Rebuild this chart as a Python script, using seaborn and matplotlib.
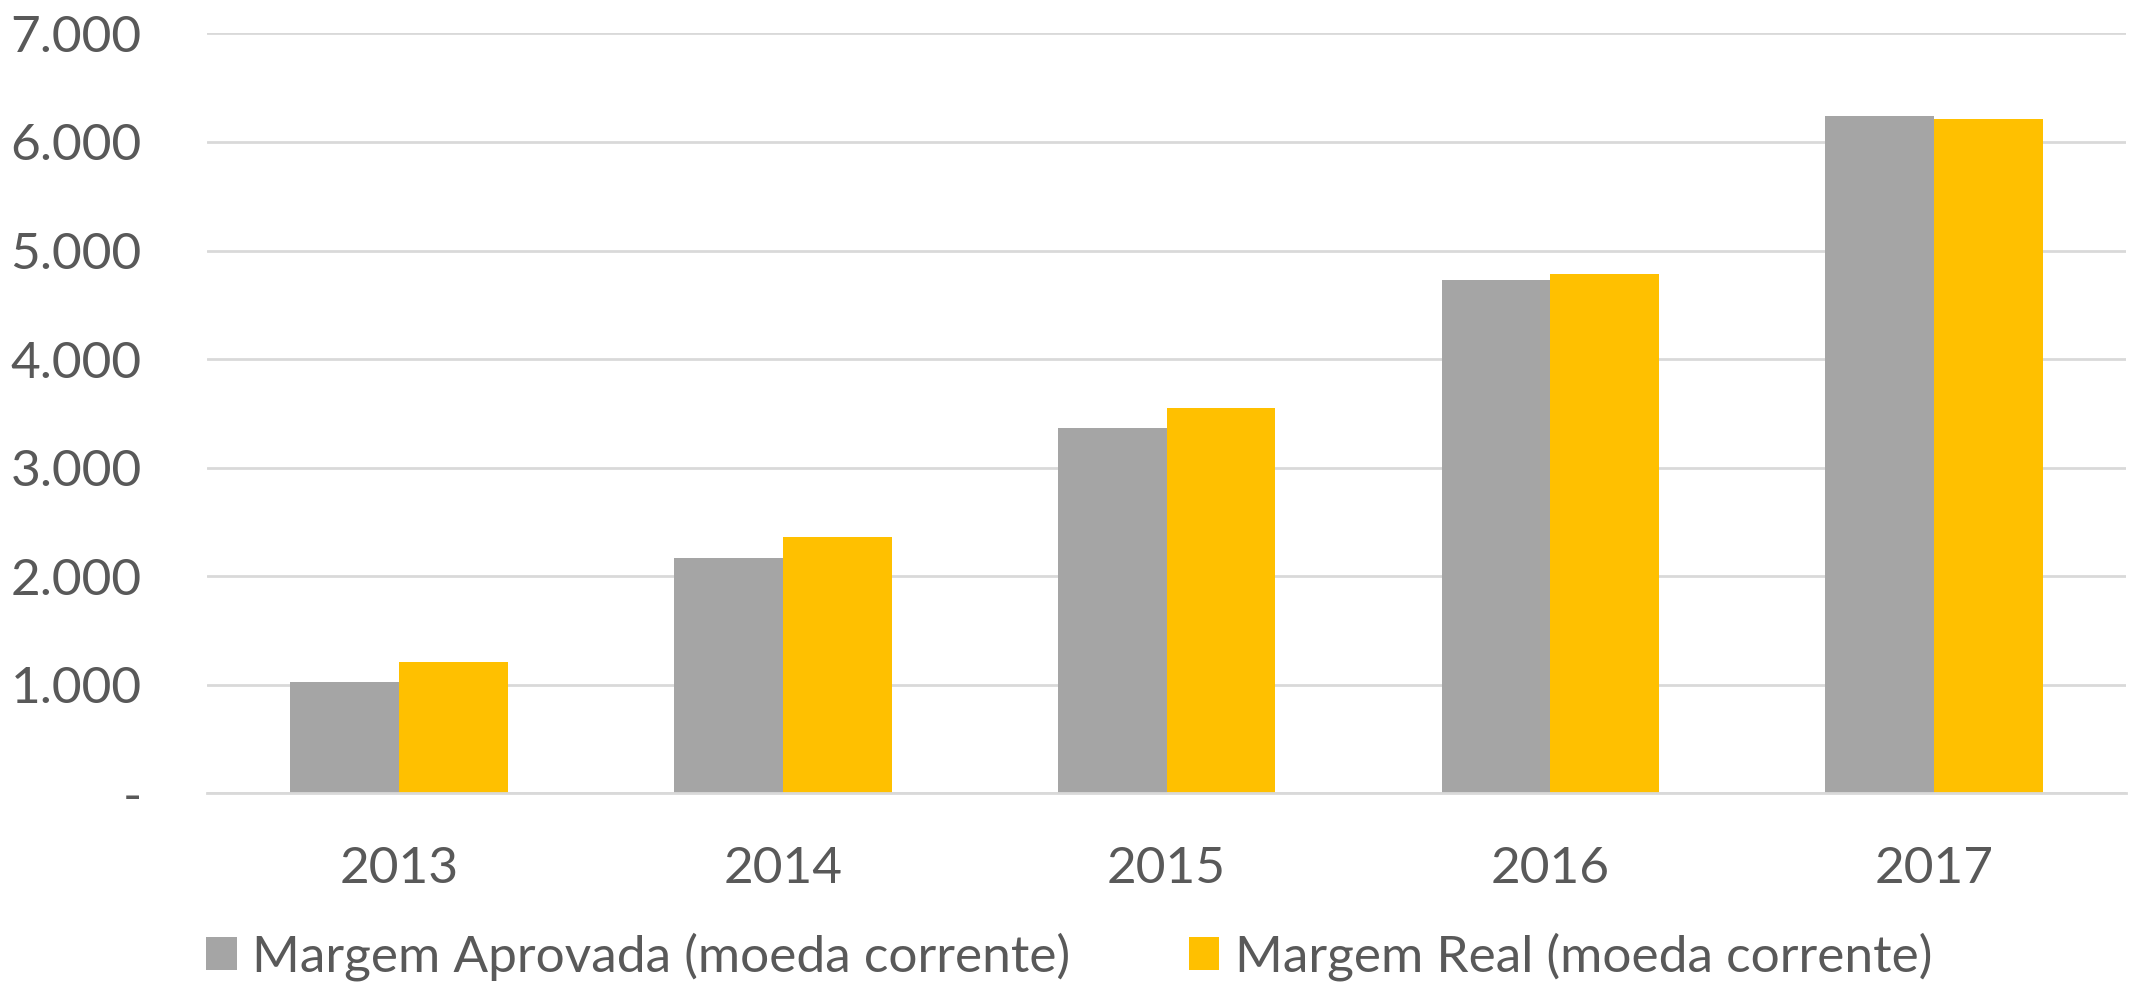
import matplotlib
matplotlib.use("Agg")
import matplotlib.pyplot as plt
import seaborn as sns
import pandas as pd
from matplotlib.patches import Patch
from matplotlib.ticker import FuncFormatter

years = ["2013", "2014", "2015", "2016", "2017"]
aprovada = [1030, 2165, 3365, 4730, 6235]
real = [1210, 2365, 3550, 4785, 6215]
series_names = ["Margem Aprovada (moeda corrente)", "Margem Real (moeda corrente)"]
colors = ["#A5A5A5", "#FFC000"]

df = pd.DataFrame({
    "Ano": years * 2,
    "Valor": aprovada + real,
    "Serie": [series_names[0]] * len(years) + [series_names[1]] * len(years),
})

sns.set_theme(style="white")
plt.rcParams["font.family"] = ["Lato", "DejaVu Sans"]
text_color = "#595959"

fig = plt.figure(figsize=(21.34, 9.82), dpi=100)
ax = fig.add_axes([0.097, 0.192, 0.8993, 0.774])

sns.barplot(data=df, x="Ano", y="Valor", hue="Serie", palette=colors,
            width=0.567, saturation=1, ax=ax, legend=False, linewidth=0)

ax.set_ylim(0, 7000)
ax.set_yticks(range(0, 7001, 1000))

def fmt(v, pos):
    if v == 0:
        return "-"
    return f"{int(v):,}".replace(",", ".")

ax.yaxis.set_major_formatter(FuncFormatter(fmt))
ax.yaxis.grid(True, color="#D9D9D9", linewidth=2)
ax.set_axisbelow(True)
for s in ["left", "right", "top"]:
    ax.spines[s].set_visible(False)
ax.spines["bottom"].set_color("#D9D9D9")
ax.spines["bottom"].set_linewidth(2)
ax.set_xlabel("")
ax.set_ylabel("")
ax.tick_params(axis="y", length=0, pad=47, labelsize=37, labelcolor=text_color)
ax.tick_params(axis="x", length=0, pad=38, labelsize=37, labelcolor=text_color)

handles = [Patch(facecolor=c, edgecolor="none") for c in colors]
fig.legend(handles, series_names, loc="center", bbox_to_anchor=(0.501, 0.026),
           ncol=2, frameon=False, fontsize=37, labelcolor=text_color,
           handlelength=0.6, handleheight=0.6, handletextpad=0.3, columnspacing=2.3)

fig.savefig("out.png", dpi=100)
